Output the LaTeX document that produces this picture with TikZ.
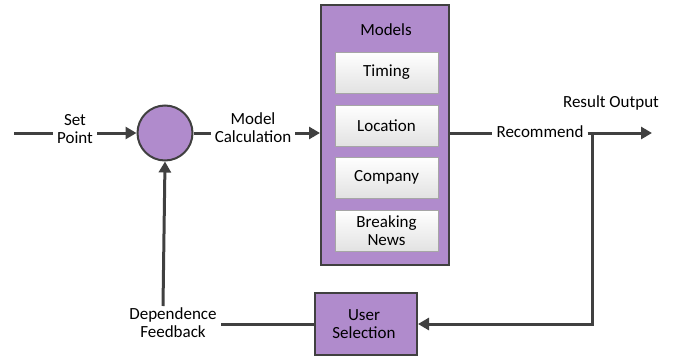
\documentclass[tikz,border=0pt]{standalone}
\usepackage{fontspec}
\setmainfont{Carlito}
\usetikzlibrary{arrows.meta,positioning}
\definecolor{purp}{HTML}{B08BCC}
\definecolor{edge}{HTML}{404040}
\definecolor{inner}{HTML}{E2E2E2}
\tikzset{
  x=1pt,y=-1pt,
  every node/.style={font=\fontsize{17}{18}\selectfont, text=black, align=center},
  conn/.style={draw=edge, line width=3pt},
  arr/.style={conn, -{Triangle[length=11pt,width=12pt]}},
  purpbox/.style={draw=edge, line width=2pt, fill=purp},
  modelbox/.style={draw=gray!70, line width=0.8pt, top color=white, bottom color=inner, minimum width=103pt, minimum height=41pt},
  lbl/.style={inner sep=4pt},
}
\begin{document}
\begin{tikzpicture}
\useasboundingbox (0,0) rectangle (685,356);
% nodes
\coordinate (start) at (14,133);
\node[lbl] (sp) at (75,129) {Set\\Point};
\node[circle, purpbox, minimum size=55pt, inner sep=0pt] (sum) at (165,133) {};
\node[lbl] (mc) at (253,128) {Model\\Calculation};
\node[purpbox, minimum width=128pt, minimum height=260pt, inner sep=0pt] (models) at (385,135) {};
\node[lbl] (mt) at (386,30) {Models};
\node[modelbox] (timing) at (386.5,72.5) {Timing};
\node[modelbox] (location) at (386.5,125.5) {Location};
\node[modelbox] (company) at (386.5,177.5) {Company};
\node[modelbox] (news) at (386.5,231) {Breaking\\News};
\node[lbl] (rec) at (540,132) {Recommend};
\node[lbl] (ro) at (611,103) {Result Output};
\coordinate (out) at (652,133);
\coordinate (turn1) at (592,133);
\coordinate (turn2) at (592,324);
\node[purpbox, minimum width=102pt, minimum height=62pt, inner sep=0pt] (us) at (366,324) {};
\node[lbl] at (364,324) {User\\Selection};
\node[lbl] (df) at (173,323) {Dependence\\Feedback};
% connectors
\draw[conn] (start) -- (sp.west |- start);
\draw[arr] (sp.east |- sum) -- (sum.west);
\draw[conn] (sum.east) -- (mc.west |- sum);
\draw[arr] (mc.east |- sum) -- (models.west |- sum);
\draw[conn] (models.east |- sum) -- (rec.west |- sum);
\draw[arr] (rec.east |- sum) -- (out);
\draw[arr] (turn1) -- (turn2) -- (us.east);
\draw[conn] (us.west) -- (df.east |- us);
\draw[arr] (163,306) -- (sum.south);
\end{tikzpicture}
\end{document}
